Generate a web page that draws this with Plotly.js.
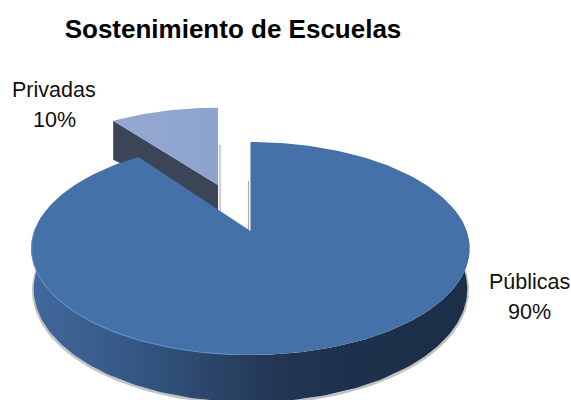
<!DOCTYPE html>
<html>
<head>
<meta charset="utf-8">
<script src="https://cdn.plot.ly/plotly-3.0.0.min.js"></script>
<style>html,body{margin:0;padding:0;background:#fff}#c{width:571px;height:400px}</style>
</head>
<body>
<div id="c"></div>
<script>
const categories = ['Públicas', 'Privadas'];
const values = [90, 10];
const chartTitle = 'Sostenimiento de Escuelas';

/* perspective projection of a tilted disc onto the plot's pixel-scaled axes */
const CX = 250.5, CY = 231, A = 216, B = 103.6, K = 0.1642;
const total = values.reduce((a, b) => a + b, 0);
const mainSweep = 360 * values[0] / total;
const rad = d => d * Math.PI / 180;

function project(u, v, cx) {
  const w = 1 + K * v;
  return [cx + A * u / w, CY - B * v / w, w];
}
function rim(deg, off) {            // deg: clockwise from 12 o'clock
  const o = off || {u: 0, v: 0, cx: CX};
  return project(Math.sin(rad(deg)), Math.cos(rad(deg)) + o.v, o.cx);
}
function arc(from, to, off) {
  const n = Math.max(8, Math.round(Math.abs(to - from) / 1.5)), out = [];
  for (let i = 0; i <= n; i++) out.push(rim(from + (to - from) * i / n, off));
  return out;
}
const poly = pts => ({x: pts.map(p => p[0]), y: pts.map(p => p[1])});
const base = {type: 'scatter', hoverinfo: 'skip', showlegend: false};

/* main slice */
const apex = project(0, 0, CX);
const mainFace = [apex].concat(arc(0, mainSweep)).concat([apex]);
const drop = p => [CX + (p[0] - CX) * 0.99, p[1] + 39.5 / p[2]];
const front = arc(78, 282);
const wall = front.concat(front.slice().reverse().map(drop));
const wallEdge = front.map(drop);
const shadowEdge = wallEdge.map(p => [p[0] + (p[0] < CX ? -0.5 : 0.5), p[1] + 1.2]);
const highlight = arc(184, 272);

/* exploded slice */
const off = {v: 0.479, cx: 218};
const wedgeApex = project(0, off.v, off.cx);
const wedgeFace = [wedgeApex].concat(arc(mainSweep, 360, off)).concat([wedgeApex]);
const wedgeLeft = rim(mainSweep, off);
const wedgeWall = [wedgeLeft, wedgeApex,
  [wedgeApex[0], wedgeApex[1] + 26], [wedgeLeft[0], wedgeLeft[1] + 39]];
const wedgeShade = [[wedgeApex[0] + 2, wedgeApex[1] - 40], [wedgeApex[0] + 2, wedgeApex[1] + 26]];
const gapShade = [[apex[0] - 2, apex[1] - 50], [apex[0] - 2, apex[1] - 1]];

const traces = [
  Object.assign({}, base, poly(shadowEdge), {mode: 'lines', line: {color: '#c2c2c2', width: 2.5}}),
  Object.assign({}, base, poly(wedgeShade), {mode: 'lines', line: {color: '#d2d2d2', width: 2.5}}),
  Object.assign({}, base, poly(gapShade), {mode: 'lines', line: {color: '#a8a8a8', width: 1.2}}),
  Object.assign({}, base, poly(wedgeWall), {mode: 'lines', fill: 'toself', fillcolor: '#3a4558', line: {width: 0, color: '#3a4558'}}),
  Object.assign({}, base, poly(wedgeFace), {mode: 'lines', fill: 'toself', line: {width: 0, color: '#8fa5cf'},
    fillgradient: {type: 'horizontal', colorscale: [[0, '#94a9d2'], [1, '#8da3cd']]}}),
  Object.assign({}, base, poly(wall), {mode: 'lines', fill: 'toself', line: {width: 0, color: '#2a4060'},
    fillgradient: {type: 'horizontal', colorscale: [[0, '#41699c'], [0.27, '#33547f'], [0.5, '#263c5b'], [0.6, '#213450'], [0.85, '#1c2f48'], [1, '#1c2f48']]}}),
  Object.assign({}, base, poly(mainFace), {mode: 'lines', fill: 'toself', fillcolor: '#4472a8', line: {width: 0, color: '#4472a8'}}),
  Object.assign({}, base, poly(highlight), {mode: 'lines', line: {color: '#5d8cc8', width: 1.2}})
];

const labelFont = {family: 'Liberation Sans, Arial, sans-serif', size: 21.5, color: '#111'};
const text = (s, x, y) => ({text: s, x, y, xref: 'x', yref: 'y', showarrow: false, xanchor: 'center', yanchor: 'middle', font: labelFont});
const pct = i => Math.round(100 * values[i] / total) + '%';

Plotly.newPlot('c', traces, {
  width: 571, height: 400,
  margin: {l: 0, r: 0, t: 0, b: 0},
  paper_bgcolor: '#fff', plot_bgcolor: '#fff',
  showlegend: false,
  xaxis: {range: [0, 571], visible: false, fixedrange: true},
  yaxis: {range: [400, 0], visible: false, fixedrange: true},
  title: {text: '<b>' + chartTitle + '</b>', x: 233 / 571, xanchor: 'center', xref: 'paper',
    y: 1 - 29 / 400, yanchor: 'middle', yref: 'paper',
    font: {family: 'Liberation Sans, Arial, sans-serif', size: 26, color: '#000'}},
  annotations: [
    text(categories[1], 54, 90), text(pct(1), 54, 120),
    text(categories[0], 529, 282), text(pct(0), 529, 312)
  ]
}, {staticPlot: true, displayModeBar: false});
</script>
</body>
</html>
